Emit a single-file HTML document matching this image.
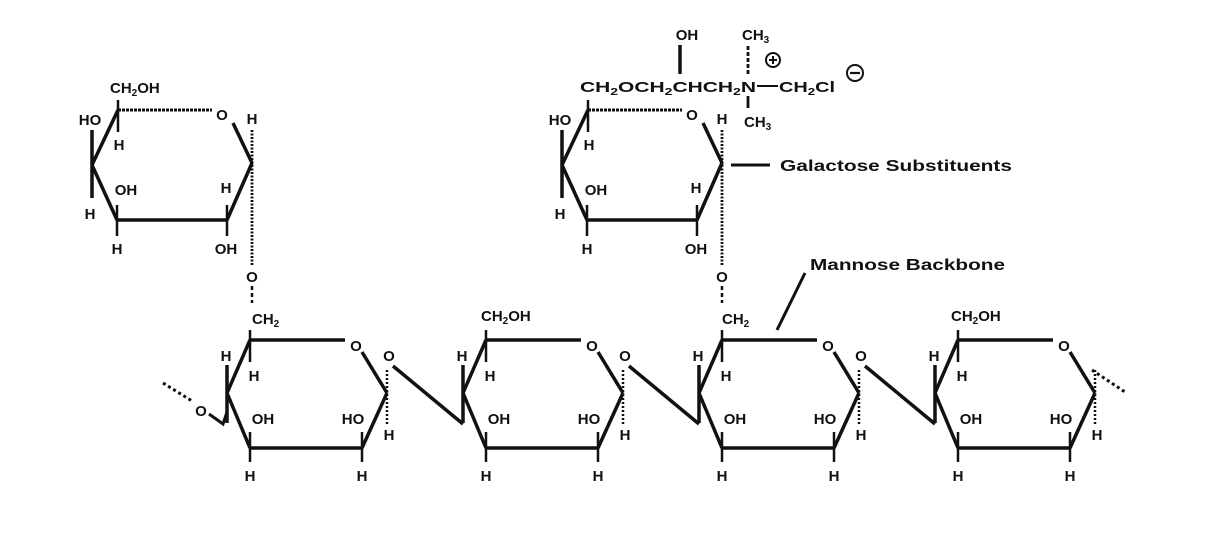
<!DOCTYPE html>
<html><head><meta charset="utf-8"><style>
html,body{margin:0;padding:0;background:#fff;}
svg{display:block;}
text{font-family:"Liberation Sans",Arial,sans-serif;font-weight:bold;font-size:15px;fill:#111;}
.s{font-size:10px;}
</style></head><body>
<svg width="1216" height="540" viewBox="0 0 1216 540" xmlns="http://www.w3.org/2000/svg">
<defs>
<g id="bb">
  <g stroke="#111" stroke-width="3.5" fill="none" stroke-linecap="butt">
    <line x1="250" y1="340" x2="345" y2="340"/>
    <line x1="362" y1="352" x2="387" y2="393"/>
    <line x1="387" y1="393" x2="362" y2="448"/>
    <line x1="362" y1="448" x2="250" y2="448"/>
    <line x1="250" y1="448" x2="227" y2="393"/>
    <line x1="227" y1="393" x2="250" y2="340"/>
    <line x1="227" y1="365" x2="227" y2="423"/>
    <line x1="250" y1="330" x2="250" y2="362" stroke-width="2.5"/>
    <line x1="250" y1="432" x2="250" y2="462" stroke-width="2.5"/>
    <line x1="362" y1="432" x2="362" y2="462" stroke-width="2.5"/>
  </g>
  <line x1="387" y1="370" x2="387" y2="425" stroke="#111" stroke-width="2.5" stroke-dasharray="2,2"/>
  <text x="356" y="351" text-anchor="middle">O</text>
  <text x="226" y="361" text-anchor="middle">H</text>
  <text x="254" y="381" text-anchor="middle">H</text>
  <text x="263" y="424" text-anchor="middle">OH</text>
  <text x="250" y="481" text-anchor="middle">H</text>
  <text x="353" y="424" text-anchor="middle">HO</text>
  <text x="389" y="440" text-anchor="middle">H</text>
  <text x="362" y="481" text-anchor="middle">H</text>
</g>
<g id="bl">
  <text x="389" y="361" text-anchor="middle">O</text>
  <line x1="393" y1="366" x2="463" y2="424" stroke="#111" stroke-width="3.5"/>
</g>
<g id="gal">
  <g stroke="#111" stroke-width="3.5" fill="none">
    <line x1="118" y1="110" x2="92" y2="165"/>
    <line x1="92" y1="165" x2="117" y2="220"/>
    <line x1="117" y1="220" x2="227" y2="220"/>
    <line x1="227" y1="220" x2="252" y2="163"/>
    <line x1="233" y1="123" x2="252" y2="163"/>
    <line x1="92" y1="130" x2="92" y2="198"/>
    <line x1="118" y1="100" x2="118" y2="132" stroke-width="2.5"/>
    <line x1="117" y1="205" x2="117" y2="236" stroke-width="2.5"/>
    <line x1="227" y1="205" x2="227" y2="236" stroke-width="2.5"/>
  </g>
  <line x1="118" y1="110" x2="212" y2="110" stroke="#111" stroke-width="3" stroke-dasharray="3,1"/>
  <line x1="252" y1="130" x2="252" y2="266" stroke="#111" stroke-width="2.8" stroke-dasharray="2,1.5"/>
  <text x="222" y="120" text-anchor="middle">O</text>
  <text x="252" y="124" text-anchor="middle">H</text>
  <text x="90" y="125" text-anchor="middle">HO</text>
  <text x="119" y="150" text-anchor="middle">H</text>
  <text x="126" y="195" text-anchor="middle">OH</text>
  <text x="90" y="219" text-anchor="middle">H</text>
  <text x="226" y="193" text-anchor="middle">H</text>
  <text x="226" y="254" text-anchor="middle">OH</text>
  <text x="117" y="254" text-anchor="middle">H</text>
  <text x="252" y="282" text-anchor="middle">O</text>
  <line x1="252" y1="286" x2="252" y2="303" stroke="#111" stroke-width="2.5" stroke-dasharray="4,3"/>
  <text x="252" y="324">CH<tspan class="s" dy="3">2</tspan></text>
</g>
</defs>

<use href="#bb"/>
<use href="#bb" transform="translate(236,0)"/>
<use href="#bb" transform="translate(472,0)"/>
<use href="#bb" transform="translate(708,0)"/>
<use href="#bl"/>
<use href="#bl" transform="translate(236,0)"/>
<use href="#bl" transform="translate(472,0)"/>
<text x="481" y="321">CH<tspan class="s" dy="3">2</tspan><tspan dy="-3">OH</tspan></text>
<text x="951" y="321">CH<tspan class="s" dy="3">2</tspan><tspan dy="-3">OH</tspan></text>

<line x1="163" y1="383" x2="192" y2="401" stroke="#111" stroke-width="3" stroke-dasharray="3,3"/>
<text x="201" y="416" text-anchor="middle">O</text>
<polyline points="209,414 223,424 227,412" stroke="#111" stroke-width="3" fill="none"/>
<line x1="1092" y1="370" x2="1125" y2="392" stroke="#111" stroke-width="3" stroke-dasharray="3,3"/>

<use href="#gal"/>
<use href="#gal" transform="translate(470,0)"/>
<text x="110" y="93">CH<tspan class="s" dy="3">2</tspan><tspan dy="-3">OH</tspan></text>

<text x="580" y="92" textLength="176" lengthAdjust="spacingAndGlyphs">CH<tspan class="s" dy="3">2</tspan><tspan dy="-3">OCH</tspan><tspan class="s" dy="3">2</tspan><tspan dy="-3">CHCH</tspan><tspan class="s" dy="3">2</tspan><tspan dy="-3">N</tspan></text>
<text x="687" y="40" text-anchor="middle">OH</text>
<line x1="680" y1="45" x2="680" y2="74" stroke="#111" stroke-width="3.5"/>
<text x="742" y="40">CH<tspan class="s" dy="3">3</tspan></text>
<line x1="748" y1="46" x2="748" y2="76" stroke="#111" stroke-width="2.8" stroke-dasharray="4,2"/>
<line x1="748" y1="96" x2="748" y2="108" stroke="#111" stroke-width="2.8"/>
<text x="744" y="127">CH<tspan class="s" dy="3">3</tspan></text>
<circle cx="773" cy="60" r="7" fill="none" stroke="#111" stroke-width="2"/>
<line x1="769" y1="60" x2="777" y2="60" stroke="#111" stroke-width="2"/>
<line x1="773" y1="56" x2="773" y2="64" stroke="#111" stroke-width="2"/>
<line x1="757" y1="86" x2="778" y2="86" stroke="#111" stroke-width="2"/>
<text x="779" y="92" textLength="56" lengthAdjust="spacingAndGlyphs">CH<tspan class="s" dy="3">2</tspan><tspan dy="-3">Cl</tspan></text>
<circle cx="855" cy="73" r="8" fill="none" stroke="#111" stroke-width="2"/>
<line x1="850" y1="73" x2="860" y2="73" stroke="#111" stroke-width="2.2"/>

<line x1="731" y1="165" x2="770" y2="165" stroke="#111" stroke-width="3"/>
<text x="780" y="171" style="font-size:16px" textLength="232" lengthAdjust="spacingAndGlyphs">Galactose Substituents</text>
<line x1="805" y1="273" x2="777" y2="330" stroke="#111" stroke-width="3"/>
<text x="810" y="270" style="font-size:16px" textLength="195" lengthAdjust="spacingAndGlyphs">Mannose Backbone</text>
</svg>
</body></html>
